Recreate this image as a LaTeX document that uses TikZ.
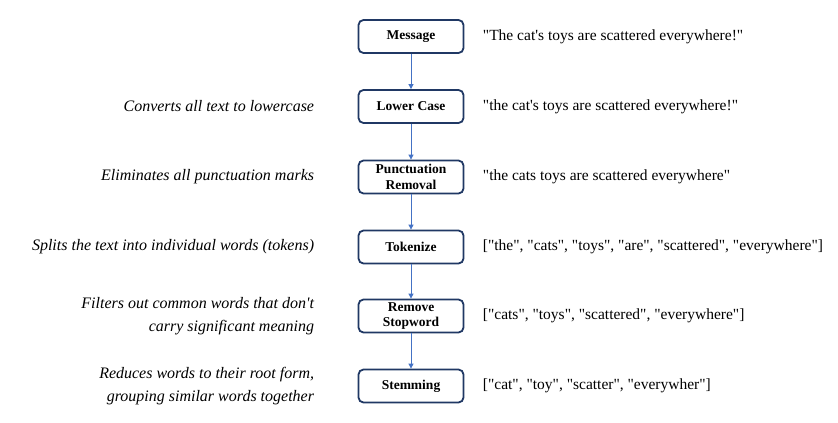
\documentclass[tikz,border=0pt]{standalone}
\usepackage{fontspec}
\setmainfont{Liberation Serif}[Ligatures=TeXOff]
\usetikzlibrary{positioning,arrows.meta}
\definecolor{boxnavy}{HTML}{203864}
\definecolor{flowblue}{HTML}{4472C4}

\begin{document}
\begin{tikzpicture}[x=1pt,y=-1pt,
    stepbox/.style={draw=boxnavy,line width=1.8pt,rounded corners=5pt,
        minimum width=105pt,minimum height=33pt,align=center,inner sep=1pt,
        font=\fontsize{13.5}{15.5}\selectfont\bfseries},
    note/.style={font=\fontsize{16}{22.5}\selectfont\itshape,align=right},
    sample/.style={font=\fontsize{15.5}{18}\selectfont},
    flow/.style={flowblue,line width=0.8pt,-{Triangle[length=5pt,width=5pt]}}]
    \useasboundingbox (0,0) rectangle (838,423);

    % the steps
    \node[stepbox] (msg) at (411,36.5) {Message};
    \node[stepbox] (lower) at (411,106.5) {Lower Case};
    \node[stepbox] (punct) at (411,177) {Punctuation\\Removal};
    \node[stepbox] (token) at (411,247) {Tokenize};
    \node[stepbox] (stop) at (411,316) {Remove\\Stopword};
    \node[stepbox] (stem) at (411,386) {Stemming};
    \foreach \a/\b in {msg/lower,lower/punct,punct/token,token/stop,stop/stem} {
        \draw[flow] (\a) -- (\b);
    }

    % what each step does
    \node[note,left=40pt of lower] (lowernote) {Converts all text to lowercase};
    \node[note,left=40pt of punct] (punctnote) {Eliminates all punctuation marks};
    \node[note,left=40pt of token] (tokennote) {Splits the text into individual words (tokens)};
    \node[note,left=40pt of stop] (stopnote) {Filters out common words that don't\\carry significant meaning};
    \node[note,left=40pt of stem] (stemnote) {Reduces words to their root form,\\grouping similar words together};

    % the sentence after each step
    \node[sample,right=15pt of msg] (msgout) {"The cat's toys are scattered everywhere!"};
    \node[sample,right=15pt of lower] (lowerout) {"the cat's toys are scattered everywhere!"};
    \node[sample,right=15pt of punct] (punctout) {"the cats toys are scattered everywhere"};
    \node[sample,right=15pt of token] (tokenout) {["the", "cats", "toys", "are", "scattered", "everywhere"]};
    \node[sample,right=15pt of stop] (stopout) {["cats", "toys", "scattered", "everywhere"]};
    \node[sample,right=15pt of stem] (stemout) {["cat", "toy", "scatter", "everywher"]};
\end{tikzpicture}
\end{document}
